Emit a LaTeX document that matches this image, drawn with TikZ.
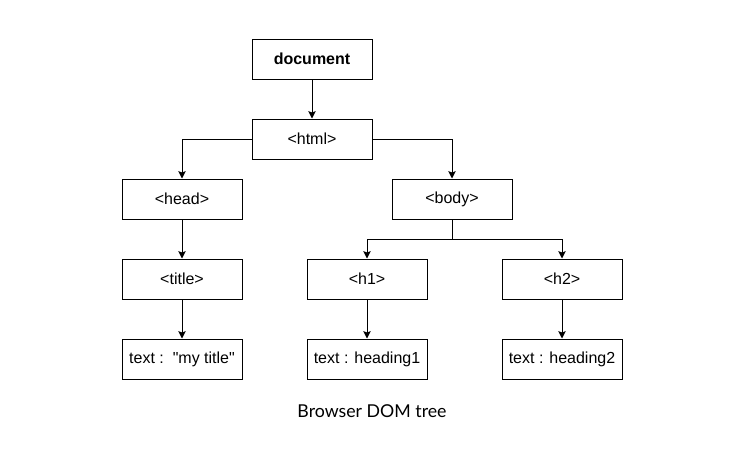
\documentclass[tikz,border=0pt]{standalone}
\usepackage{fontspec}
\setmainfont{Liberation Sans}
\newfontfamily\captionfont{Lato}
\usetikzlibrary{arrows.meta}
\begin{document}
\begin{tikzpicture}[x=0.75pt,y=-0.75pt,
  domnode/.style={draw=black, line width=0.75pt, minimum width=90pt, minimum height=30pt,
    inner sep=0pt, font=\fontsize{12}{14}\selectfont},
  link/.style={line width=0.75pt, -{Stealth[length=5.5pt,width=5.5pt,inset=1pt]}},
  plain/.style={line width=0.75pt}]
  \useasboundingbox (0,0) rectangle (750,458);
  % tree nodes (centres in pixel units)
  \node[domnode, font=\fontsize{12}{14}\selectfont\bfseries] (doc) at (312,59) {document};
  \node[domnode] (html) at (312,139) {<html>};
  \node[domnode] (head) at (182,199) {<head>};
  \node[domnode] (body) at (452,199) {<body>};
  \node[domnode] (title) at (182,279) {<title>};
  \node[domnode] (h1) at (367,279) {<h1>};
  \node[domnode] (h2) at (562,279) {<h2>};
  \node[domnode] (ttitle) at (182,359) {text :\ \ \textquotedbl my title\textquotedbl};
  \node[domnode] (th1) at (367,359) {text : heading1};
  \node[domnode] (th2) at (562,359) {text : heading2};
  \node[font=\captionfont\fontsize{13.3}{16}\selectfont] (cap) at (372,411) {Browser DOM tree};
  % junction below <body>
  \coordinate (split) at (452,239);
  % connectors
  \draw[link] (doc) -- (html);
  \draw[link] (html.west) -| (head.north);
  \draw[link] (html.east) -| (body.north);
  \draw[link] (head) -- (title);
  \draw[link] (title) -- (ttitle);
  \draw[plain] (body.south) -- (split);
  \draw[link] (split) -| (h1.north);
  \draw[link] (split) -| (h2.north);
  \draw[link] (h1) -- (th1);
  \draw[link] (h2) -- (th2);
\end{tikzpicture}
\end{document}
